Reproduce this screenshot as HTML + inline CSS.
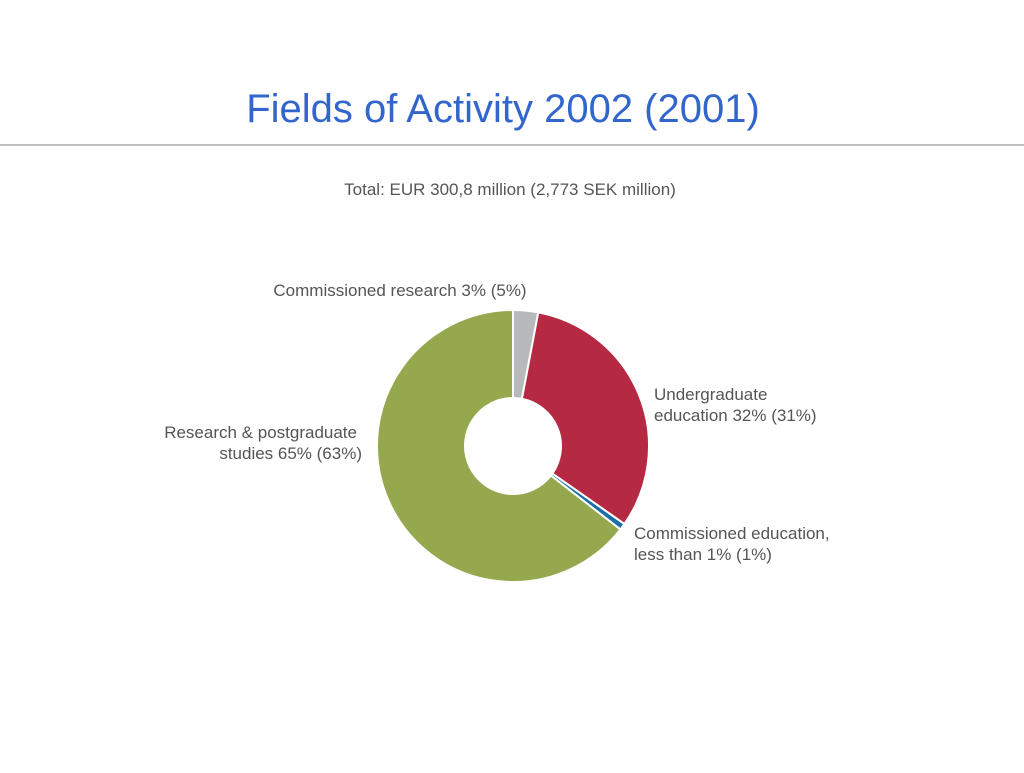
<!DOCTYPE html>
<html><head><meta charset="utf-8"><style>
body{margin:0;width:1024px;height:768px;background:#fff;font-family:"Liberation Sans","DejaVu Sans",sans-serif;overflow:hidden}
</style></head><body>
<svg width="1024" height="768">
<text x="503" y="122" text-anchor="middle" font-size="40" fill="#3366cc">Fields of Activity 2002 (2001)</text>
<line x1="0" y1="145" x2="1024" y2="145" stroke="#aaa" stroke-width="1.5"/>
<text x="510" y="195" text-anchor="middle" font-size="17" fill="#555">Total: EUR 300,8 million (2,773 SEK million)</text>
<g id="slices"></g>
<g font-size="17" fill="#555">
<text x="400" y="296" text-anchor="middle">Commissioned research 3% (5%)</text>
<text x="654" y="400">Undergraduate</text>
<text x="654" y="421">education 32% (31%)</text>
<text x="634" y="539">Commissioned education,</text>
<text x="634" y="560">less than 1% (1%)</text>
<text x="357" y="438" text-anchor="end">Research &amp; postgraduate</text>
<text x="362" y="459" text-anchor="end">studies 65% (63%)</text>
</g>
</svg>
<script>
const categories=["Commissioned research","Undergraduate education","Commissioned education","Research & postgraduate studies"];
const values=[3,32,0.8,65];
const colors=["#b7b9bb","#b52a42","#1a6fa8","#95a84e"];
const cx=513,cy=446,R=136,r=48;
const total=values.reduce((a,b)=>a+b,0);
const g=document.getElementById('slices');
function pt(a,rad){return [cx+rad*Math.sin(a),cy-rad*Math.cos(a)];}
let acc=0;
values.forEach((v,i)=>{
  const a0=acc/total*2*Math.PI;acc+=v;const a1=acc/total*2*Math.PI;
  const large=(a1-a0)>Math.PI?1:0;
  const [x0,y0]=pt(a0,R),[x1,y1]=pt(a1,R),[x2,y2]=pt(a1,r),[x3,y3]=pt(a0,r);
  const p=document.createElementNS('http://www.w3.org/2000/svg','path');
  p.setAttribute('d',`M${x0},${y0}A${R},${R} 0 ${large} 1 ${x1},${y1}L${x2},${y2}A${r},${r} 0 ${large} 0 ${x3},${y3}Z`);
  p.setAttribute('fill',colors[i]);
  p.setAttribute('stroke','#fff');
  p.setAttribute('stroke-width','2');
  
  
  g.appendChild(p);
});
</script>
</body></html>
